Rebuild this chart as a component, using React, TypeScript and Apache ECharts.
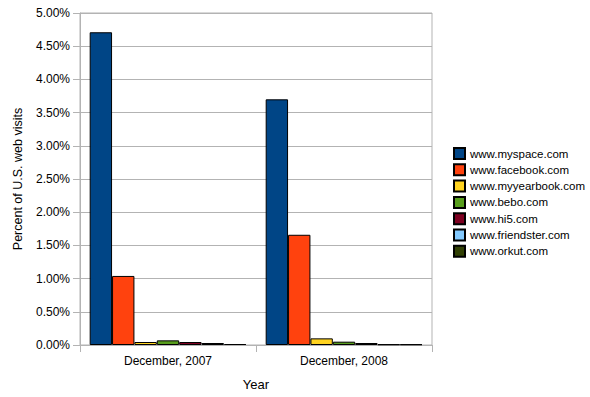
import React, { useEffect, useRef } from "react";
import * as echarts from "echarts";

const categories = ["December, 2007", "December, 2008"];
const seriesNames = [
  "www.myspace.com",
  "www.facebook.com",
  "www.myyearbook.com",
  "www.bebo.com",
  "www.hi5.com",
  "www.friendster.com",
  "www.orkut.com",
];
const myspace = [4.71, 3.7];
const facebook = [1.04, 1.66];
const myyearbook = [0.045, 0.1];
const bebo = [0.07, 0.05];
const hi5 = [0.045, 0.03];
const friendster = [0.03, 0.01];
const orkut = [0.015, 0.01];
const seriesValues = [myspace, facebook, myyearbook, bebo, hi5, friendster, orkut];
const colors = ["#004586", "#ff420e", "#ffd320", "#579d1c", "#7e0021", "#83caff", "#314004"];

export default function App() {
  const ref = useRef<HTMLDivElement>(null);
  useEffect(() => {
    if (!ref.current) return;
    const chart = echarts.init(ref.current, null, { renderer: "svg" });
    const font = "'Liberation Sans', Arial, sans-serif";
    chart.setOption({
      animation: false,
      backgroundColor: "#ffffff",
      textStyle: { fontFamily: font, color: "#000" },
      grid: {
        left: 80,
        right: 158,
        top: 13,
        bottom: 52,
        show: true,
        borderColor: "#b3b3b3",
        borderWidth: 1,
      },
      legend: {
        orient: "vertical",
        left: 448,
        top: 142,
        padding: 5,
        itemWidth: 11,
        itemHeight: 11,
        itemGap: 3.3,
        icon: "rect",
        textStyle: { fontFamily: font, fontSize: 11.5, lineHeight: 12, color: "#000" },
        data: seriesNames,
      },
      xAxis: {
        type: "category",
        data: categories,
        name: "Year",
        nameLocation: "middle",
        nameGap: 33,
        nameTextStyle: { fontFamily: font, fontSize: 13, color: "#000" },
        axisLine: { lineStyle: { color: "#b3b3b3" } },
        axisTick: { show: true, length: 7, lineStyle: { color: "#b3b3b3" } },
        axisLabel: { fontFamily: font, fontSize: 12, color: "#000", margin: 10 },
      },
      yAxis: {
        type: "value",
        min: 0,
        max: 5,
        interval: 0.5,
        name: "Percent of U.S. web visits",
        nameLocation: "middle",
        nameGap: 56,
        nameTextStyle: { fontFamily: font, fontSize: 12.5, color: "#000" },
        axisLine: { show: true, lineStyle: { color: "#b3b3b3" } },
        axisTick: { show: true, length: 7, lineStyle: { color: "#b3b3b3" } },
        splitLine: { lineStyle: { color: "#b3b3b3" } },
        axisLabel: {
          fontFamily: font,
          fontSize: 12,
          color: "#000",
          margin: 10,
          formatter: (v: number) => v.toFixed(2) + "%",
        },
      },
      series: seriesNames.map((name, i) => ({
        name,
        type: "bar",
        data: seriesValues[i],
        barGap: "0%",
        barCategoryGap: "11%",
        itemStyle: { color: colors[i], borderColor: "#000", borderWidth: 1 },
      })),
    });
    return () => chart.dispose();
  }, []);
  return <div ref={ref} style={{ width: 590, height: 397, position: "absolute", left: 0, top: 0 }} />;
}
